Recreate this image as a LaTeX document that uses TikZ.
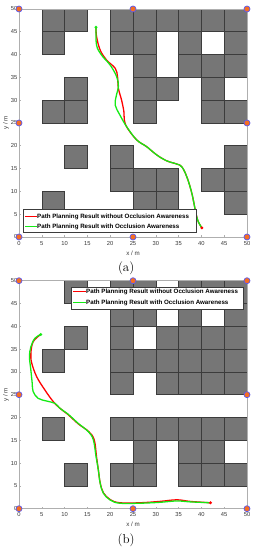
\documentclass[tikz,border=0pt]{standalone}
\usepackage{fontspec}
\setsansfont{Liberation Sans}
\usetikzlibrary{calc}

\definecolor{obstfill}{RGB}{118,118,118}
\definecolor{obstedge}{RGB}{60,60,60}
\definecolor{axgray}{RGB}{175,175,175}
\definecolor{labgray}{RGB}{55,55,55}
\definecolor{pathred}{RGB}{255,0,0}
\definecolor{pathgreen}{RGB}{20,235,20}
\definecolor{cornerfill}{RGB}{245,110,35}
\definecolor{corneredge}{RGB}{90,90,240}

\tikzset{
  obstacle/.style={fill=obstfill, draw=obstedge, line width=0.6pt},
  axisline/.style={draw=axgray, line width=0.6pt},
  ticklab/.style={font=\sffamily\fontsize{5.8}{6}\selectfont, text=labgray, inner sep=0pt},
  axlab/.style={font=\sffamily\fontsize{6.2}{7}\selectfont, text=labgray, inner sep=0pt},
  legtext/.style={font=\sffamily\bfseries\fontsize{6.2}{7}\selectfont, inner sep=0pt, anchor=west},
  legbox/.style={fill=white, draw=obstedge, line width=0.5pt},
  redpath/.style={draw=pathred, line width=1.3pt},
  greenpath/.style={draw=pathgreen, line width=1.3pt},
  corner/.style={fill=cornerfill, draw=corneredge, line width=0.7pt},
  caption/.style={font=\fontsize{13}{15}\selectfont, inner sep=0pt}
}

\begin{document}
\begin{tikzpicture}[x=1pt,y=1pt]
  \useasboundingbox (0,0) rectangle (255,550);

  % top: path without occlusion vs with occlusion, case a
  \begin{scope}[shift={(19,313)}, x=4.56pt, y=4.56pt]
    \foreach \x/\y in {5/45,10/45,20/45,25/45,30/45,35/45,40/45,45/45,
                       5/40,20/40,25/40,35/40,45/40,
                       25/35,35/35,40/35,45/35,
                       10/30,25/30,30/30,40/30,
                       5/25,10/25,25/25,40/25,45/25,
                       10/15,20/15,45/15,
                       20/10,25/10,30/10,40/10,45/10,
                       5/5,25/5,30/5,45/5}
      \filldraw[obstacle] (\x,\y) rectangle ++(5,5);

    \draw[axisline] (0,0) rectangle (50,50);
    \foreach \t in {0,5,...,50} {
      \draw[axisline] (\t,0) -- ++(0,0.35);
      \draw[axisline] (0,\t) -- ++(0.35,0);
      \node[ticklab, anchor=north] (xa\t) at ($(\t,0)+(0,-4pt)$) {\t};
      \node[ticklab, anchor=east] (ya\t) at ($(0,\t)+(-1.5pt,0)$) {\t};
    }
    \node[axlab] (xlabA) at ($(25,0)+(0,-16pt)$) {x / m};
    \node[axlab, rotate=90] (ylabA) at ($(0,25)+(-13pt,0)$) {y / m};

    % paths
    \draw[redpath] plot[smooth, tension=0.6] coordinates {(16.9,46.0) (17.0,44) (17.8,41) (19.2,38.8) (21.1,37)
      (21.6,35.2) (21.8,32.6) (22.5,30) (23.0,27.5) (23.1,25.7) (23.7,24.0) (25.8,21.3) (28.0,19.8)
      (30.2,18.0) (32.4,16.7) (34.6,16.0) (35.7,15.4) (36.8,13.2) (37.9,9.6) (38.8,5.2) (39.3,3.4) (40.1,2.0)};
    \draw[greenpath] plot[smooth, tension=0.6] coordinates {(16.9,46.0) (17.0,42.1) (18.1,39.9) (20.0,37.7)
      (21.4,35.2) (21.8,33.1) (21.3,30.8) (21.1,28.9) (22.1,26.8) (23.6,24.2) (25.8,21.3) (28.0,19.8)
      (30.2,18.0) (32.4,16.7) (34.6,16.0) (35.7,15.4) (36.8,13.2) (37.9,9.6) (38.8,5.2) (39.3,3.4) (40.1,2.0)};
    \fill[pathgreen] (16.9,46.0) circle (1.6pt);
    \fill[pathred] (40.1,2.0) circle (1.6pt);

    % legend
    \filldraw[legbox] (0.88,1.1) rectangle (38.8,6.1);
    \node[legtext] (legAred) at (3.95,4.45) {Path Planning Result without Occlusion Awareness};
    \node[legtext] (legAgreen) at (3.95,2.3) {Path Planning Result with Occlusion Awareness};
    \draw[redpath] (legAred.west) -- ++(-2.6,0);
    \draw[greenpath] (legAgreen.west) -- ++(-2.6,0);

    \foreach \p in {(0,0),(25,0),(50,0),(0,25),(50,25),(0,50),(25,50),(50,50)}
      \filldraw[corner] \p circle (3pt);

    \node[caption] (capA) at ($(23.5,0)+(0,-31.5pt)$) {(a)};
  \end{scope}


  % bottom: path without occlusion vs with occlusion, case b
  \begin{scope}[shift={(19,41.3)}, x=4.56pt, y=4.56pt]
    \foreach \x/\y in {10/45,20/45,25/45,35/45,40/45,45/45,
                       20/40,25/40,35/40,45/40,
                       10/35,20/35,30/35,35/35,40/35,45/35,
                       5/30,20/30,25/30,30/30,35/30,40/30,45/30,
                       20/25,30/25,35/25,40/25,45/25,
                       5/15,20/15,25/15,30/15,35/15,40/15,45/15,
                       25/10,35/10,40/10,
                       10/5,20/5,25/5,35/5,40/5,45/5}
      \filldraw[obstacle] (\x,\y) rectangle ++(5,5);

    \draw[axisline] (0,0) rectangle (50,50);
    \foreach \t in {0,5,...,50} {
      \draw[axisline] (\t,0) -- ++(0,0.35);
      \draw[axisline] (0,\t) -- ++(0.35,0);
      \node[ticklab, anchor=north] (xb\t) at ($(\t,0)+(0,-4pt)$) {\t};
      \node[ticklab, anchor=east] (yb\t) at ($(0,\t)+(-1.5pt,0)$) {\t};
    }
    \node[axlab] (xlabB) at ($(25,0)+(0,-16pt)$) {x / m};
    \node[axlab, rotate=90] (ylabB) at ($(0,25)+(-13pt,0)$) {y / m};

    % paths
    \draw[redpath] plot[smooth, tension=0.6] coordinates {(4.75,38.2) (3.1,36.6) (2.6,34) (2.8,31.9) (3.9,28.9)
      (5.7,26) (7.5,23.5) (9.0,22.0) (10.8,20.6) (13.0,18.6) (15.3,16.9) (16.5,15.1) (17.0,11.4) (17.4,8.5)
      (17.8,5.7) (18.5,3.5) (20.0,2.0) (22.1,1.3) (26.5,1.3) (30.9,1.6) (34.6,1.95) (37.5,1.6) (42.0,1.3)};
    \draw[greenpath] plot[smooth, tension=0.6] coordinates {(4.75,38.2) (3.5,37.4) (2.6,35.5) (2.3,33.3)
      (2.6,30.4) (2.9,27.5) (3.1,25.7) (4.2,24.2) (6.1,23.6) (7.9,23.1) (9.0,22.0) (10.8,20.7) (13.0,18.7)
      (15.2,16.9) (16.3,15.1) (16.9,11.4) (17.4,8.5) (17.8,5.6) (18.5,3.4) (20.0,1.9) (22.1,1.2) (26.5,1.2)
      (30.9,1.4) (34.6,1.7) (37.5,1.5) (42.0,1.3)};
    \fill[pathgreen] (4.75,38.2) circle (1.6pt);
    \fill[pathred] (42.0,1.3) circle (1.6pt);

    % legend
    \filldraw[legbox] (11.4,43.8) rectangle (49.1,48.6);
    \node[legtext] (legBred) at (14.7,47.6) {Path Planning Result without Occlusion Awareness};
    \node[legtext] (legBgreen) at (14.7,45.2) {Path Planning Result with Occlusion Awareness};
    \draw[redpath] (legBred.west) -- ++(-2.8,0);
    \draw[greenpath] (legBgreen.west) -- ++(-2.8,0);

    \foreach \p in {(0,0),(25,0),(50,0),(0,25),(50,25),(0,50),(25,50),(50,50)}
      \filldraw[corner] \p circle (3pt);

    \node[caption] (capB) at ($(23.5,0)+(0,-32pt)$) {(b)};
  \end{scope}

\end{tikzpicture}
\end{document}
